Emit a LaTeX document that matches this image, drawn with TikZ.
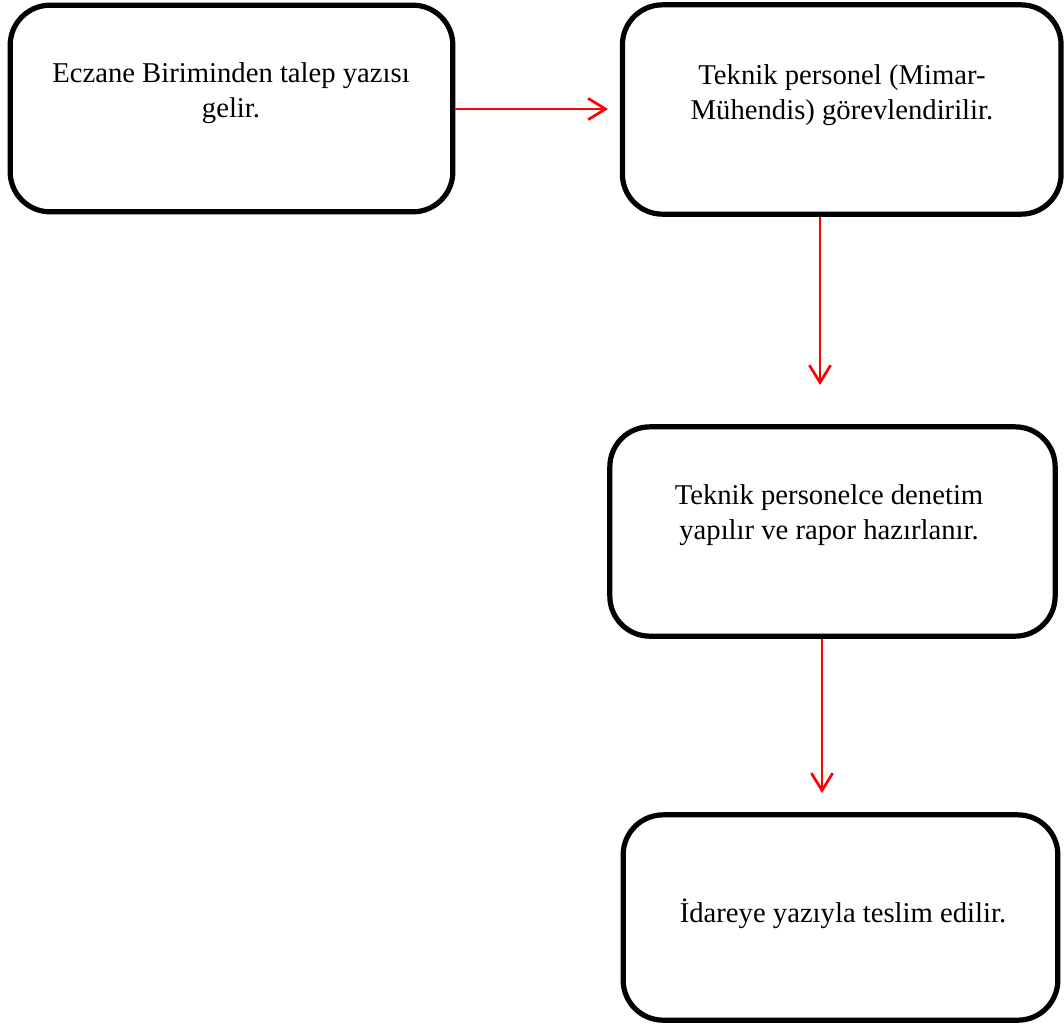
\documentclass[tikz,border=0pt]{standalone}
\usepackage{fontspec}
\setmainfont{Liberation Serif}
\usetikzlibrary{arrows.meta}
\begin{document}
\begin{tikzpicture}[x=0.75pt,y=-0.75pt,
  stepbox/.style={draw=black,line width=3.9pt,rounded corners=30pt,rectangle,inner sep=0pt},
  steptext/.style={align=center,font=\fontsize{21.5pt}{26pt}\selectfont,inner sep=0pt},
  flow/.style={draw=red,line width=2pt,-{Straight Barb[length=13pt,width=16pt,line width=2pt]}}]
  \useasboundingbox (0,0) rectangle (1064,1026);
  % boxes
  \node[stepbox,minimum width=332pt,minimum height=155pt] (b1) at (231.5,108.5) {};
  \node[stepbox,minimum width=329pt,minimum height=157pt] (b2) at (841.75,109.5) {};
  \node[stepbox,minimum width=334pt,minimum height=157pt] (b3) at (832.5,531.5) {};
  \node[stepbox,minimum width=326pt,minimum height=154pt] (b4) at (840.5,917.5) {};
  % texts
  \node[steptext] (t1) at (231,93) {Eczane Biriminden talep yazısı\\gelir.};
  \node[steptext] (t2) at (842,95) {Teknik personel (Mimar-\\Mühendis) görevlendirilir.};
  \node[steptext] (t3) at (829,515) {Teknik personelce denetim\\yapılır ve rapor hazırlanır.};
  \node[steptext] (t4) at (843,914) {İdareye yazıyla teslim edilir.};
  % arrow ends
  \coordinate (e1) at (608,109);
  \coordinate (e2) at (820,385);
  \coordinate (e3) at (822,793);
  % connectors
  \draw[flow] (b1.east |- e1) -- (e1);
  \draw[flow] (b2.south -| e2) -- (e2);
  \draw[flow] (b3.south -| e3) -- (e3);
\end{tikzpicture}
\end{document}
